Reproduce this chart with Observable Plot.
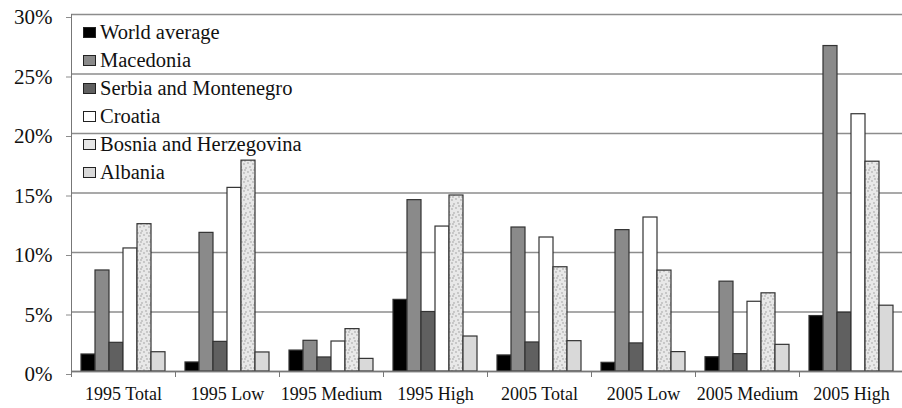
<!DOCTYPE html>
<html><head><meta charset="utf-8">
<script src="https://cdn.jsdelivr.net/npm/d3@7"></script>
<script src="https://cdn.jsdelivr.net/npm/@observablehq/plot@0.6"></script>
<style>
html,body{margin:0;background:#fff;font-family:'Liberation Serif';}
#wrap{position:relative;width:902px;height:408px;overflow:hidden;font-family:'Liberation Serif';}
#wrap svg{max-width:none !important;width:906px !important;height:408px !important;display:block;}
#wrap svg, #wrap svg text{font-family:'Liberation Serif' !important;}
#legend{position:absolute;left:83px;top:18px;font-size:20.5px;color:#111;line-height:1;font-family:'Liberation Serif';}
.row{height:28px;display:flex;align-items:center;}
.sw{width:13px;height:11px;border:1px solid #222;margin-right:4px;box-sizing:border-box;flex:none}
</style></head><body><div id="wrap"><div id="legend"></div></div>
<script>
const categories = ["1995 Total", "1995 Low", "1995 Medium", "1995 High", "2005 Total", "2005 Low", "2005 Medium", "2005 High"];
const series = ["World average", "Macedonia", "Serbia and Montenegro", "Croatia", "Bosnia and Herzegovina", "Albania"];
const worldAverage = [1.43, 0.76, 1.76, 6.02, 1.35, 0.73, 1.20, 4.66];
const macedonia    = [8.49, 11.65, 2.58, 14.40, 12.10, 11.88, 7.55, 27.35];
const serbiaMonte  = [2.41, 2.49, 1.18, 5.00, 2.44, 2.36, 1.46, 4.94];
const croatia      = [10.34, 15.43, 2.52, 12.18, 11.26, 12.94, 5.86, 21.62];
const bosnia       = [12.38, 17.72, 3.56, 14.79, 8.76, 8.48, 6.57, 17.63];
const albania      = [1.62, 1.60, 1.06, 2.94, 2.55, 1.63, 2.24, 5.53];
const yTicks = [0, 5, 10, 15, 20, 25, 30];

const seriesValues = [worldAverage, macedonia, serbiaMonte, croatia, bosnia, albania];
const fills = ["#000000", "#8a8a8a", "#606060", "#ffffff", "url(#speckle)", "#d9d9d9"];
const swatchBg = ["#000000", "#8a8a8a", "#606060", "#ffffff", "#e6e6e6", "#d9d9d9"];

const rows = [];
categories.forEach((c, i) => series.forEach((s, j) => rows.push({category: c, series: s, value: seriesValues[j][i]})));

const chart = Plot.plot({
  width: 906, height: 408,
  marginLeft: 67, marginRight: 0, marginTop: 14, marginBottom: 37,
  style: {fontFamily: "Liberation Serif", fontSize: "19px", color: "#111", background: "#fff"},
  fx: {domain: categories, padding: 0, label: null, axis: null},
  x: {domain: series, paddingInner: 0, paddingOuter: 0.69, axis: null},
  y: {domain: [0, 30], label: null},
  color: {domain: series, range: fills},
  marks: [
    Plot.gridY(yTicks, {stroke: "#8c8c8c", strokeOpacity: 1, strokeWidth: 1.4}),
    Plot.axisY(yTicks, {tickSize: 5, tickPadding: 14, dy: 3, tickFormat: d => d + "%", fontSize: 21, stroke: "#8c8c8c", strokeOpacity: 1, label: null}),
    Plot.axisFx({anchor: "bottom", tickSize: 0, tickPadding: 16, label: null, fontSize: 18}),
    Plot.frame({anchor: "left", insetTop: 357, insetBottom: -5, stroke: "#777"}),
    Plot.frame({anchor: "left", fx: [categories[0]], stroke: "#777"}),
    Plot.barY(rows, {fx: "category", x: "series", y: "value", fill: "series", stroke: "#333", strokeWidth: 1.2}),
    Plot.ruleY([0], {stroke: "#777", strokeWidth: 1.5})
  ]
});

const svg = d3.select(chart);
const defs = svg.insert("defs", ":first-child");
const pat = defs.append("pattern").attr("id", "speckle").attr("patternUnits", "userSpaceOnUse").attr("width", 9).attr("height", 9);
pat.append("rect").attr("width", 9).attr("height", 9).attr("fill", "#e8e8e8");
[[1,2],[5,1],[3,6],[7,5],[8,8],[2,8]].forEach(([px, py]) => pat.append("circle").attr("cx", px).attr("cy", py).attr("r", 0.9).attr("fill", "#b8b8b8"));

const wrap = document.getElementById("wrap");
wrap.insertBefore(chart, wrap.firstChild);
const legend = d3.select("#legend");
series.forEach((s, j) => {
  const r = legend.append("div").attr("class", "row");
  r.append("div").attr("class", "sw").style("background", swatchBg[j]);
  r.append("span").text(s);
});
</script>
</body></html>
